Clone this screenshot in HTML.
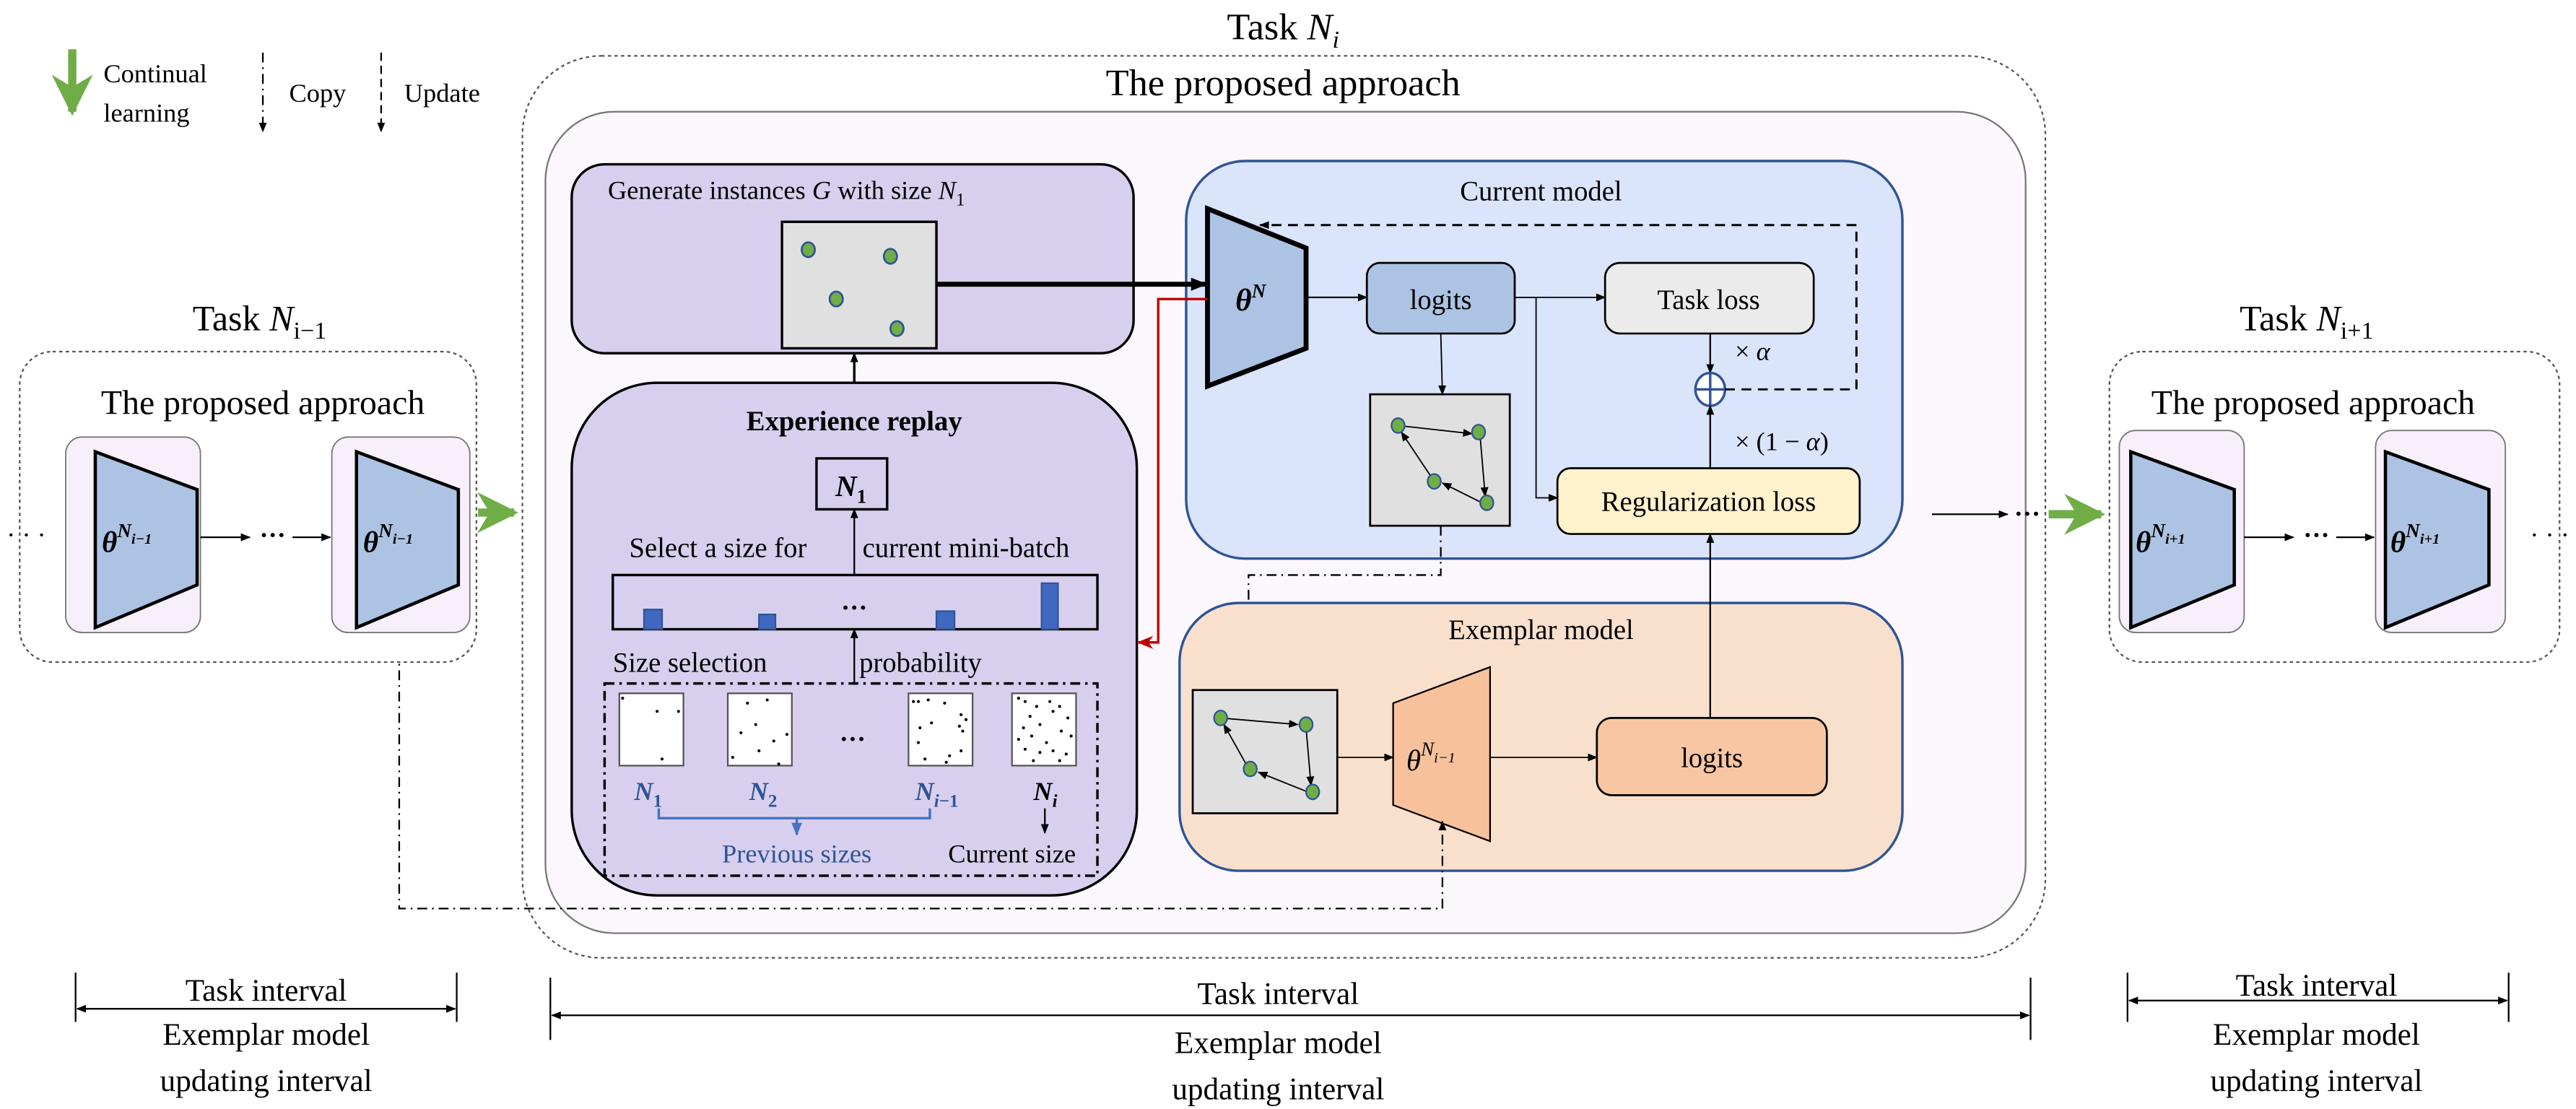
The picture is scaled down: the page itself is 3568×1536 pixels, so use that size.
<!DOCTYPE html>
<html><head><meta charset="utf-8"><style>
html,body{margin:0;padding:0;background:#fff}
svg{display:block;font-family:"Liberation Serif","Times New Roman","DejaVu Serif",serif}
svg text{font-family:"Liberation Serif","Times New Roman","DejaVu Serif",serif;fill:#000}
.it{font-style:italic}
.bi{font-style:italic;font-weight:bold}
</style></head><body>
<svg width="3568" height="1536" viewBox="0 0 1568 675" xmlns="http://www.w3.org/2000/svg" font-family="Liberation Serif, Times New Roman, DejaVu Serif, serif">
<defs>
<marker id="a" viewBox="0 0 10 10" refX="9" refY="5" markerWidth="6" markerHeight="6" orient="auto-start-reverse" markerUnits="userSpaceOnUse"><path d="M0,1 L10,5 L0,9 z" fill="#000"/></marker>
<marker id="ab" viewBox="0 0 10 10" refX="9" refY="5" markerWidth="10" markerHeight="10" orient="auto-start-reverse" markerUnits="userSpaceOnUse"><path d="M0,1 L10,5 L0,9 z" fill="#000"/></marker>
<marker id="ar" viewBox="0 0 10 10" refX="9" refY="5" markerWidth="10" markerHeight="10" orient="auto" markerUnits="userSpaceOnUse"><path d="M0,1 L10,5 L0,9 L3,5 z" fill="#c00000"/></marker>
<marker id="abl" viewBox="0 0 10 10" refX="9" refY="5" markerWidth="8" markerHeight="8" orient="auto" markerUnits="userSpaceOnUse"><path d="M0,1 L10,5 L0,9 z" fill="#4472c4"/></marker>
<marker id="g" viewBox="0 0 10 10" refX="9" refY="5" markerWidth="5" markerHeight="5" orient="auto" ><path d="M0,0 L10,5 L0,10 L3,5 z" fill="#70ad47"/></marker>
</defs>

<!-- legend -->
<line x1="44" y1="30" x2="44" y2="68" stroke="#70ad47" stroke-width="5" marker-end="url(#g)"/>
<text x="63" y="50" font-size="16">Continual</text>
<text x="63" y="74" font-size="16">learning</text>
<line x1="160" y1="32" x2="160" y2="80" stroke="#000" stroke-width="1" stroke-dasharray="6,3,1,3" marker-end="url(#a)"/>
<text x="176" y="62" font-size="16">Copy</text>
<line x1="232" y1="32" x2="232" y2="80" stroke="#000" stroke-width="1" stroke-dasharray="5,3" marker-end="url(#a)"/>
<text x="246" y="62" font-size="16">Update</text>

<!-- Task Ni -->
<text x="781" y="24" font-size="23" text-anchor="middle">Task <tspan class="it">N</tspan><tspan class="it" font-size="15" dy="5">i</tspan></text>
<rect x="318" y="34" width="927" height="549" rx="48" fill="#fff" stroke="#555" stroke-width="1" stroke-dasharray="2,2"/>
<text x="781" y="58" font-size="23" text-anchor="middle">The proposed approach</text>
<rect x="332" y="68" width="901" height="500" rx="42" fill="#fcf7fc" stroke="#777" stroke-width="1"/>

<!-- Generate box -->
<rect x="348" y="100" width="342" height="115" rx="20" fill="#d8cfee" stroke="#000" stroke-width="1.5"/>
<text x="370" y="121" font-size="16">Generate instances <tspan class="it">G</tspan> with size <tspan class="it">N</tspan><tspan font-size="11" dy="4">1</tspan></text>
<rect x="476" y="135" width="94" height="77" fill="#e0e0e0" stroke="#000" stroke-width="1.5"/>
<g fill="#70ad47" stroke="#2f5496" stroke-width="1.2">
<ellipse cx="492" cy="152" rx="4" ry="4.5"/><ellipse cx="542" cy="156" rx="4" ry="4.5"/><ellipse cx="509" cy="182" rx="4" ry="4.5"/><ellipse cx="546" cy="200" rx="4" ry="4.5"/></g>
<line x1="520" y1="233" x2="520" y2="215" stroke="#000" stroke-width="1.5" marker-end="url(#a)"/>

<!-- Experience replay -->
<rect x="348" y="233" width="344" height="312" rx="52" fill="#d8cfee" stroke="#000" stroke-width="1.5"/>
<text x="520" y="262" font-size="17" font-weight="bold" text-anchor="middle">Experience replay</text>
<rect x="497" y="279" width="43" height="31" fill="none" stroke="#000" stroke-width="1.5"/>
<text x="518" y="302" font-size="18" class="bi" text-anchor="middle">N<tspan font-size="12" dy="4" font-style="normal">1</tspan></text>
<line x1="520" y1="350" x2="520" y2="310" stroke="#000" stroke-width="1" marker-end="url(#a)"/>
<text x="383" y="339" font-size="17">Select a size for</text>
<text x="525" y="339" font-size="17">current mini-batch</text>
<rect x="373" y="350" width="295" height="33" fill="none" stroke="#000" stroke-width="1.5"/>
<g fill="#4068c0" stroke="#2f5496"><rect x="392" y="371" width="11" height="12"/><rect x="462" y="374" width="10" height="9"/><rect x="570" y="372" width="11" height="11"/><rect x="634" y="355" width="10" height="28"/></g>
<text x="520" y="375" font-size="16" font-weight="bold" text-anchor="middle">···</text>
<line x1="520" y1="416" x2="520" y2="383" stroke="#000" stroke-width="1" marker-end="url(#a)"/>
<text x="373" y="409" font-size="17">Size selection</text>
<text x="523" y="409" font-size="17">probability</text>
<rect x="368" y="416" width="300" height="117" fill="none" stroke="#000" stroke-width="1.5" stroke-dasharray="6,3,1.5,3"/>
<g fill="#fff" stroke="#555" stroke-width="1"><rect x="377" y="422" width="39" height="44"/><rect x="443" y="422" width="39" height="44"/><rect x="553" y="422" width="39" height="44"/><rect x="616" y="422" width="39" height="44"/></g>
<g fill="#000"><circle cx="379" cy="425" r="0.9"/><circle cx="400" cy="433" r="0.9"/><circle cx="413" cy="433" r="0.9"/><circle cx="403" cy="462" r="0.9"/>
<circle cx="455" cy="428" r="0.9"/><circle cx="467" cy="426" r="0.9"/><circle cx="460" cy="441" r="0.9"/><circle cx="451" cy="446" r="0.9"/><circle cx="479" cy="447" r="0.9"/><circle cx="471" cy="451" r="0.9"/><circle cx="462" cy="457" r="0.9"/><circle cx="446" cy="461" r="0.9"/><circle cx="474" cy="465" r="0.9"/>
<circle cx="556" cy="427" r="0.9"/><circle cx="559" cy="427" r="0.9"/><circle cx="565" cy="426" r="0.9"/><circle cx="575" cy="428" r="0.9"/><circle cx="585" cy="435" r="0.9"/><circle cx="588" cy="438" r="0.9"/><circle cx="567" cy="440" r="0.9"/><circle cx="560" cy="443" r="0.9"/><circle cx="584" cy="442" r="0.9"/><circle cx="586" cy="445" r="0.9"/><circle cx="559" cy="452" r="0.9"/><circle cx="585" cy="457" r="0.9"/><circle cx="578" cy="460" r="0.9"/><circle cx="563" cy="462" r="0.9"/><circle cx="576" cy="464" r="0.9"/>
<circle cx="620" cy="425" r="0.9"/><circle cx="624" cy="427" r="0.9"/><circle cx="631" cy="430" r="0.9"/><circle cx="639" cy="427" r="0.9"/><circle cx="645" cy="430" r="0.9"/><circle cx="627" cy="436" r="0.9"/><circle cx="641" cy="433" r="0.9"/><circle cx="650" cy="437" r="0.9"/><circle cx="623" cy="443" r="0.9"/><circle cx="633" cy="441" r="0.9"/><circle cx="646" cy="445" r="0.9"/><circle cx="620" cy="450" r="0.9"/><circle cx="628" cy="448" r="0.9"/><circle cx="637" cy="452" r="0.9"/><circle cx="652" cy="448" r="0.9"/><circle cx="624" cy="456" r="0.9"/><circle cx="633" cy="458" r="0.9"/><circle cx="641" cy="457" r="0.9"/><circle cx="649" cy="459" r="0.9"/><circle cx="629" cy="463" r="0.9"/><circle cx="645" cy="463" r="0.9"/></g>
<text x="519" y="455" font-size="16" font-weight="bold" text-anchor="middle">···</text>
<g font-size="16"><text x="386" y="487" class="bi" style="fill:#2f5496">N<tspan font-size="11" dy="4" font-style="normal">1</tspan></text>
<text x="456" y="487" class="bi" style="fill:#2f5496">N<tspan font-size="11" dy="4" font-style="normal">2</tspan></text>
<text x="557" y="487" class="bi" style="fill:#2f5496">N<tspan font-size="11" dy="4">i</tspan><tspan font-size="11" font-style="normal">−1</tspan></text></g>
<text x="629" y="487" font-size="16" class="bi">N<tspan font-size="11" dy="4">i</tspan></text>
<polyline points="401,492 401,498 566,498 566,492" fill="none" stroke="#4472c4" stroke-width="1.5"/>
<line x1="485" y1="498" x2="485" y2="508" stroke="#4472c4" stroke-width="1.5" marker-end="url(#abl)"/>
<text x="485" y="525" font-size="16" text-anchor="middle" style="fill:#2f5496">Previous sizes</text>
<line x1="636" y1="492" x2="636" y2="507" stroke="#000" stroke-width="1" marker-end="url(#a)"/>
<text x="616" y="525" font-size="16" text-anchor="middle">Current size</text>

<!-- Current model -->
<rect x="722" y="98" width="436" height="242" rx="36" fill="#dae4fb" stroke="#2f5496" stroke-width="1.5"/>
<text x="938" y="122" font-size="17" text-anchor="middle">Current model</text>
<polygon points="735,127 795,151 795,212 735,235" fill="#adc3e3" stroke="#000" stroke-width="3"/>
<line x1="570" y1="173" x2="734" y2="173" stroke="#000" stroke-width="3" marker-end="url(#ab)"/>
<text x="752" y="189" font-size="19" class="bi">θ<tspan font-size="12" dy="-8">N</tspan></text>
<polyline points="735,182 705,182 705,391 693,391" fill="none" stroke="#c00000" stroke-width="1.5" marker-end="url(#ar)"/>
<line x1="795" y1="181" x2="832" y2="181" stroke="#000" stroke-width="1" marker-end="url(#a)"/>
<rect x="832" y="160" width="90" height="43" rx="8" fill="#adc3e3" stroke="#000" stroke-width="1.2"/>
<text x="877" y="188" font-size="17" text-anchor="middle">logits</text>
<line x1="922" y1="181" x2="977" y2="181" stroke="#000" stroke-width="0.8" marker-end="url(#a)"/>
<rect x="977" y="160" width="127" height="43" rx="9" fill="#ebebeb" stroke="#000" stroke-width="1.2"/>
<text x="1040" y="188" font-size="17" text-anchor="middle">Task loss</text>
<line x1="1041" y1="203" x2="1041" y2="227" stroke="#000" stroke-width="1" marker-end="url(#a)"/>
<text x="1056" y="219" font-size="16">× <tspan class="it">α</tspan></text>
<ellipse cx="1041" cy="237" rx="9" ry="10" fill="#fff" stroke="#2f5496" stroke-width="1.5"/>
<line x1="1032" y1="237" x2="1050" y2="237" stroke="#2f5496" stroke-width="1.5"/><line x1="1041" y1="227" x2="1041" y2="247" stroke="#2f5496" stroke-width="1.5"/>
<polyline points="1050,237 1130,237 1130,137 767,137" fill="none" stroke="#000" stroke-width="1.3" stroke-dasharray="6,4" marker-end="url(#a)"/>
<line x1="1041" y1="285" x2="1041" y2="247" stroke="#000" stroke-width="1" marker-end="url(#a)"/>
<text x="1056" y="274" font-size="16">× (1 − <tspan class="it">α</tspan>)</text>
<polyline points="922,181 935,181 935,303 948,303" fill="none" stroke="#000" stroke-width="0.8" marker-end="url(#a)"/>
<rect x="948" y="285" width="184" height="40" rx="8" fill="#fff2cc" stroke="#000" stroke-width="1.2"/>
<text x="1040" y="311" font-size="17" text-anchor="middle">Regularization loss</text>
<line x1="877" y1="203" x2="878" y2="240" stroke="#000" stroke-width="0.8" marker-end="url(#a)"/>
<rect x="834" y="240" width="85" height="80" fill="#e0e0e0" stroke="#000" stroke-width="1.2"/>
<g stroke="#000" stroke-width="0.8" fill="none">
<line x1="851" y1="259" x2="896" y2="264" marker-end="url(#a)"/><line x1="901" y1="266" x2="904" y2="302" marker-end="url(#a)"/><line x1="902" y1="306" x2="878" y2="294" marker-end="url(#a)"/><line x1="871" y1="290" x2="853" y2="263" marker-end="url(#a)"/></g>
<g fill="#70ad47" stroke="#2f5496" stroke-width="1"><ellipse cx="851" cy="259" rx="4" ry="4.5"/><ellipse cx="900" cy="263" rx="4" ry="4.5"/><ellipse cx="873" cy="293" rx="4" ry="4.5"/><ellipse cx="905" cy="306" rx="4" ry="4.5"/></g>
<polyline points="877,320 877,350 760,350 760,420" fill="none" stroke="#000" stroke-width="1" stroke-dasharray="6,3,1,3" marker-end="url(#a)"/>

<!-- Exemplar model -->
<rect x="718" y="367" width="440" height="163" rx="36" fill="#f9e0cd" stroke="#2f5496" stroke-width="1.5"/>
<text x="938" y="389" font-size="17" text-anchor="middle">Exemplar model</text>
<rect x="726" y="420" width="88" height="75" fill="#e0e0e0" stroke="#000" stroke-width="1.2"/>
<g stroke="#000" stroke-width="0.8" fill="none">
<line x1="743" y1="437" x2="790" y2="441" marker-end="url(#a)"/><line x1="795" y1="443" x2="798" y2="478" marker-end="url(#a)"/><line x1="796" y1="482" x2="766" y2="470" marker-end="url(#a)"/><line x1="759" y1="466" x2="745" y2="441" marker-end="url(#a)"/></g>
<g fill="#70ad47" stroke="#2f5496" stroke-width="1"><ellipse cx="743" cy="437" rx="4" ry="4.5"/><ellipse cx="795" cy="441" rx="4" ry="4.5"/><ellipse cx="761" cy="468" rx="4" ry="4.5"/><ellipse cx="799" cy="482" rx="4" ry="4.5"/></g>
<line x1="814" y1="461" x2="848" y2="461" stroke="#000" stroke-width="0.8" marker-end="url(#a)"/>
<polygon points="848,428 907,406 907,512 848,490" fill="#f7c29b" stroke="#000" stroke-width="1"/>
<text x="856" y="469" font-size="18" class="it">θ<tspan font-size="12" dy="-9">N</tspan><tspan font-size="9" dy="4">i−1</tspan></text>
<line x1="907" y1="461" x2="972" y2="461" stroke="#000" stroke-width="0.8" marker-end="url(#a)"/>
<rect x="972" y="437" width="140" height="47" rx="9" fill="#f8c6a3" stroke="#000" stroke-width="1.2"/>
<text x="1042" y="467" font-size="17" text-anchor="middle">logits</text>
<line x1="1041" y1="437" x2="1041" y2="325" stroke="#000" stroke-width="1" marker-end="url(#a)"/>

<line x1="1176" y1="313" x2="1222" y2="313" stroke="#000" stroke-width="1" marker-end="url(#a)"/>
<text x="1234" y="318" font-size="16" font-weight="bold" text-anchor="middle">···</text>

<!-- copy connector from left -->
<polyline points="243,395 243,553 878,553 878,500" fill="none" stroke="#000" stroke-width="1" stroke-dasharray="6,3,1,3" marker-end="url(#a)"/>

<!-- left panel -->
<text x="158" y="201" font-size="22" text-anchor="middle">Task <tspan class="it">N</tspan><tspan font-size="15" dy="5">i−1</tspan></text>
<rect x="12" y="214" width="278" height="189" rx="20" fill="#fff" stroke="#555" stroke-width="1" stroke-dasharray="2,2"/>
<text x="160" y="252" font-size="21" text-anchor="middle">The proposed approach</text>
<rect x="40" y="266" width="82" height="119" rx="10" fill="#f7f0fa" stroke="#777" stroke-width="0.8"/>
<rect x="202" y="266" width="84" height="119" rx="10" fill="#f7f0fa" stroke="#777" stroke-width="0.8"/>
<polygon points="58,275 120,298 120,356 58,382" fill="#adc3e3" stroke="#000" stroke-width="2"/>
<polygon points="217,275 279,298 279,356 217,382" fill="#adc3e3" stroke="#000" stroke-width="2"/>
<text x="62" y="336" font-size="18" class="bi">θ<tspan font-size="12" dy="-9">N</tspan><tspan font-size="9" dy="4">i−1</tspan></text>
<text x="221" y="336" font-size="18" class="bi">θ<tspan font-size="12" dy="-9">N</tspan><tspan font-size="9" dy="4">i−1</tspan></text>
<line x1="122" y1="327" x2="152" y2="327" stroke="#000" stroke-width="1" marker-end="url(#a)"/>
<text x="166" y="331" font-size="16" font-weight="bold" text-anchor="middle">···</text>
<line x1="178" y1="327" x2="201" y2="327" stroke="#000" stroke-width="1" marker-end="url(#a)"/>
<text x="16" y="331" font-size="16" text-anchor="middle">· · ·</text>
<line x1="291" y1="312" x2="313" y2="312" stroke="#70ad47" stroke-width="5" marker-end="url(#g)"/>

<!-- right panel -->
<text x="1404" y="201" font-size="22" text-anchor="middle">Task <tspan class="it">N</tspan><tspan font-size="15" dy="5">i+1</tspan></text>
<rect x="1284" y="214" width="274" height="189" rx="20" fill="#fff" stroke="#555" stroke-width="1" stroke-dasharray="2,2"/>
<text x="1408" y="252" font-size="21" text-anchor="middle">The proposed approach</text>
<rect x="1290" y="262" width="76" height="123" rx="10" fill="#f7f0fa" stroke="#777" stroke-width="0.8"/>
<rect x="1446" y="262" width="79" height="123" rx="10" fill="#f7f0fa" stroke="#777" stroke-width="0.8"/>
<polygon points="1297,275 1360,298 1360,356 1297,382" fill="#adc3e3" stroke="#000" stroke-width="2"/>
<polygon points="1452,275 1515,298 1515,356 1452,382" fill="#adc3e3" stroke="#000" stroke-width="2"/>
<text x="1300" y="336" font-size="18" class="bi">θ<tspan font-size="12" dy="-9">N</tspan><tspan font-size="9" dy="4">i+1</tspan></text>
<text x="1455" y="336" font-size="18" class="bi">θ<tspan font-size="12" dy="-9">N</tspan><tspan font-size="9" dy="4">i+1</tspan></text>
<line x1="1366" y1="327" x2="1396" y2="327" stroke="#000" stroke-width="1" marker-end="url(#a)"/>
<text x="1410" y="331" font-size="16" font-weight="bold" text-anchor="middle">···</text>
<line x1="1422" y1="327" x2="1445" y2="327" stroke="#000" stroke-width="1" marker-end="url(#a)"/>
<text x="1552" y="331" font-size="16" text-anchor="middle">· · ·</text>
<line x1="1247" y1="313" x2="1279" y2="313" stroke="#70ad47" stroke-width="5" marker-end="url(#g)"/>

<!-- intervals -->
<g stroke="#000" stroke-width="1">
<line x1="46" y1="592" x2="46" y2="622"/><line x1="278" y1="592" x2="278" y2="622"/>
<line x1="47" y1="614" x2="277" y2="614" marker-start="url(#a)" marker-end="url(#a)"/>
<line x1="335" y1="595" x2="335" y2="633"/><line x1="1236" y1="595" x2="1236" y2="633"/>
<line x1="336" y1="618" x2="1235" y2="618" marker-start="url(#a)" marker-end="url(#a)"/>
<line x1="1295" y1="592" x2="1295" y2="622"/><line x1="1527" y1="592" x2="1527" y2="622"/>
<line x1="1296" y1="609" x2="1526" y2="609" marker-start="url(#a)" marker-end="url(#a)"/>
</g>
<g font-size="19" text-anchor="middle">
<text x="162" y="609">Task interval</text><text x="162" y="636">Exemplar model</text><text x="162" y="664">updating interval</text>
<text x="778" y="611">Task interval</text><text x="778" y="641">Exemplar model</text><text x="778" y="669">updating interval</text>
<text x="1410" y="606">Task interval</text><text x="1410" y="636">Exemplar model</text><text x="1410" y="664">updating interval</text>
</g>
</svg>
</body></html>
